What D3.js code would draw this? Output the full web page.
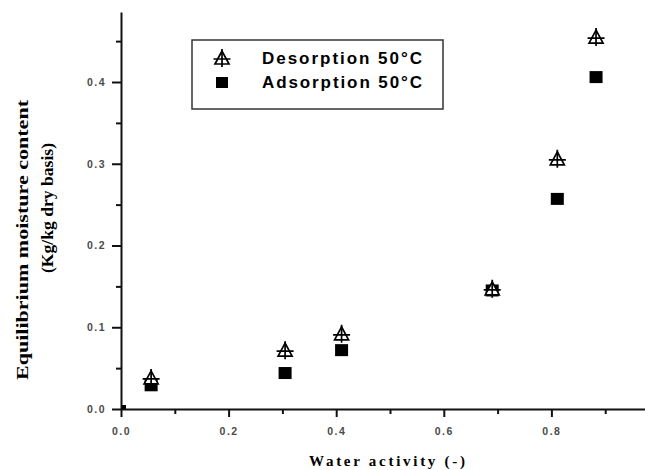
<!DOCTYPE html>
<html>
<head>
<meta charset="utf-8">
<script src="https://cdn.jsdelivr.net/npm/d3@7"></script>
<style>
  body { margin: 0; background: #fff; }
  svg { display: block; }
  .tick text { font-family: "Liberation Sans", Arial, sans-serif; font-weight: bold; font-size: 10.5px; fill: #4a4a4a; letter-spacing: 1.5px; }
</style>
</head>
<body>
<div id="chart"></div>
<script>
// Water activity values (x)
const waterActivity = [0.056, 0.305, 0.41, 0.69, 0.811, 0.883];
// Equilibrium moisture content (y)
const desorption = [0.038, 0.072, 0.092, 0.147, 0.306, 0.455];
const adsorption = [0.029, 0.044, 0.072, 0.145, 0.257, 0.406];
const originPoint = [[0, 0]];
const xTicks = [0, 0.2, 0.4, 0.6, 0.8];
const yTicks = [0, 0.1, 0.2, 0.3, 0.4];
const legendLabels = ["Desorption 50°C", "Adsorption 50°C"];

const W = 645, H = 470;
const margin = { left: 121, top: 12, right: 0, bottom: 61 };

const svg = d3.select("#chart").append("svg")
  .attr("width", W)
  .attr("height", H);

// scales
const x = d3.scaleLinear()
  .domain([0, (W - margin.left) / 538])
  .range([margin.left, W]);

const y = d3.scaleLinear()
  .domain([0, (H - margin.bottom - margin.top) / 817.5])
  .range([H - margin.bottom, margin.top]);

// minor ticks every 0.1 (x) and 0.05 (y)
const xMinor = d3.range(0.1, 1.0, 0.2);
const yMinor = d3.range(0.05, 0.5, 0.1);

svg.append("g")
  .attr("transform", `translate(0,${y(0)})`)
  .call(d3.axisBottom(x).tickValues(xMinor).tickSize(5).tickFormat(""))
  .call(g => g.select(".domain").remove());

svg.append("g")
  .attr("transform", `translate(${x(0)},0)`)
  .call(d3.axisLeft(y).tickValues(yMinor).tickSize(5).tickFormat(""))
  .call(g => g.select(".domain").remove());

// x-axis
svg.append("g")
  .attr("class", "x-axis")
  .attr("transform", `translate(0,${y(0)})`)
  .call(d3.axisBottom(x).tickValues(xTicks).tickSize(8).tickSizeOuter(0).tickPadding(11)
    .tickFormat(d3.format(".1f")));

// y-axis
svg.append("g")
  .attr("class", "y-axis")
  .attr("transform", `translate(${x(0)},0)`)
  .call(d3.axisLeft(y).tickValues(yTicks).tickSize(9).tickSizeOuter(0).tickPadding(6)
    .tickFormat(d3.format(".1f")));

svg.selectAll(".domain, .tick line")
  .attr("stroke", "#111")
  .attr("stroke-width", 2);

// tiny marker at the origin
svg.selectAll(".origin")
  .data(originPoint)
  .enter().append("rect")
  .attr("x", d => x(d[0]) + 1)
  .attr("y", d => y(d[1]) - 4)
  .attr("width", 4)
  .attr("height", 4)
  .attr("fill", "#000");

// desorption symbol: open triangle with a cross through it
function desorptionSymbol(g) {
  g.append("path")
    .attr("d", "M0,-7 L-7,6 L7,6 Z")
    .attr("fill", "#fff")
    .attr("stroke", "#000")
    .attr("stroke-width", 1.7);
  g.append("path")
    .attr("d", "M0,-9 L0,9 M-8.5,1 L8.5,1")
    .attr("stroke", "#000")
    .attr("stroke-width", 1.7);
}

const adsData = waterActivity.map((a, i) => ({ a, v: adsorption[i] }));
const desData = waterActivity.map((a, i) => ({ a, v: desorption[i] }));

svg.selectAll(".ads")
  .data(adsData)
  .enter().append("rect")
  .attr("class", "ads")
  .attr("x", d => x(d.a) - 6.5)
  .attr("y", d => y(d.v) - 6)
  .attr("width", 13)
  .attr("height", 12)
  .attr("fill", "#000");

svg.selectAll(".des")
  .data(desData)
  .enter().append("g")
  .attr("class", "des")
  .attr("transform", d => `translate(${x(d.a)},${y(d.v)})`)
  .each(function() { desorptionSymbol(d3.select(this)); });

// legend
const legend = svg.append("g");
legend.append("rect")
  .attr("x", 192).attr("y", 40)
  .attr("width", 251).attr("height", 69)
  .attr("fill", "#fff")
  .attr("stroke", "#333")
  .attr("stroke-width", 1.5);

desorptionSymbol(legend.append("g").attr("transform", "translate(222,58)"));
legend.append("rect")
  .attr("x", 216).attr("y", 77)
  .attr("width", 12).attr("height", 11)
  .attr("fill", "#000");

legend.selectAll(".leg-text")
  .data(legendLabels)
  .enter().append("text")
  .attr("x", 262)
  .attr("y", (d, i) => 64 + i * 24)
  .attr("textLength", 160)
  .attr("lengthAdjust", "spacing")
  .style("font-family", "Liberation Sans, Arial, sans-serif")
  .style("font-weight", "bold")
  .style("font-size", "17px")
  .text(d => d);

// x-axis label
svg.append("text")
  .attr("x", 387)
  .attr("y", 466)
  .attr("text-anchor", "middle")
  .attr("textLength", 156)
  .attr("lengthAdjust", "spacing")
  .style("font-family", "Liberation Serif, Times New Roman, serif")
  .style("font-size", "15px")
  .style("font-weight", "bold")
  .text("Water activity (-)");

// y-axis label (two lines)
svg.append("text")
  .attr("transform", "translate(28,240) rotate(-90)")
  .attr("text-anchor", "middle")
  .attr("textLength", 280)
  .attr("lengthAdjust", "spacingAndGlyphs")
  .style("font-family", "Liberation Serif, Times New Roman, serif")
  .style("font-size", "17px")
  .style("font-weight", "bold")
  .text("Equilibrium moisture content");

svg.append("text")
  .attr("transform", "translate(53,208) rotate(-90)")
  .attr("text-anchor", "middle")
  .attr("textLength", 130)
  .attr("lengthAdjust", "spacingAndGlyphs")
  .style("font-family", "Liberation Serif, Times New Roman, serif")
  .style("font-size", "17px")
  .style("font-weight", "bold")
  .text("(Kg/kg dry basis)");
</script>
</body>
</html>
